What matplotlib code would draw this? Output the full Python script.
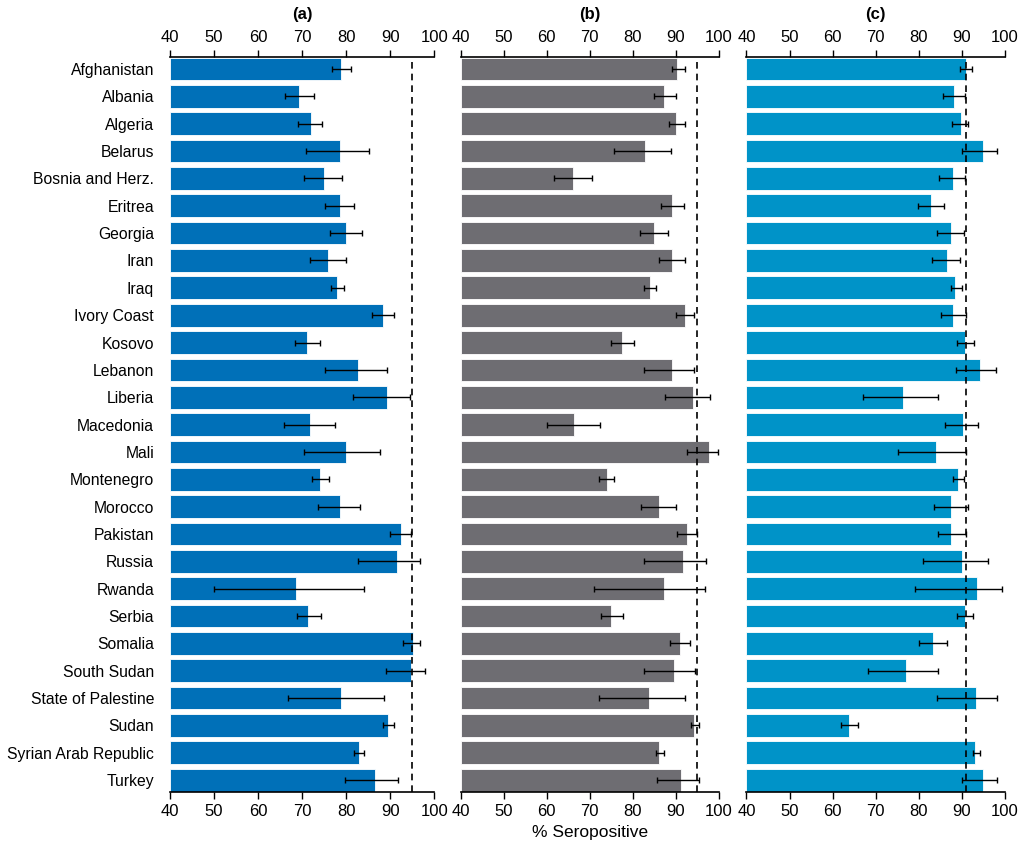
import matplotlib
matplotlib.use("Agg")
import matplotlib.pyplot as plt
import numpy as np

plt.rcParams['font.family'] = ['Liberation Sans', 'DejaVu Sans']

countries = ["Afghanistan", "Albania", "Algeria", "Belarus", "Bosnia and Herz.",
             "Eritrea", "Georgia", "Iran", "Iraq", "Ivory Coast", "Kosovo",
             "Lebanon", "Liberia", "Macedonia", "Mali", "Montenegro", "Morocco",
             "Pakistan", "Russia", "Rwanda", "Serbia", "Somalia", "South Sudan",
             "State of Palestine", "Sudan", "Syrian Arab Republic", "Turkey"]

# panel (a)
a_val = [78.8, 69.2, 72.0, 78.5, 74.9, 78.5, 79.9, 75.8, 77.9, 88.3, 71.1, 82.7, 89.2,
         71.7, 79.9, 74.0, 78.5, 92.4, 91.6, 68.7, 71.4, 95.1, 94.8, 78.8, 89.5, 83.0, 86.5]
a_lo = [76.9, 66.1, 69.1, 70.8, 70.5, 75.1, 76.3, 71.8, 76.5, 85.8, 68.5, 75.1, 81.5,
        65.8, 70.5, 72.3, 73.6, 89.9, 82.8, 50.1, 68.9, 92.9, 89.1, 66.7, 88.4, 81.9, 79.8]
a_hi = [81.1, 72.8, 74.6, 85.2, 79.0, 81.9, 83.5, 79.9, 79.6, 90.9, 74.0, 89.2, 94.4,
        77.5, 87.7, 76.1, 83.2, 94.8, 96.8, 84.0, 74.2, 96.8, 98.0, 88.5, 90.8, 84.1, 91.7]

# panel (b)
b_val = [90.3, 87.3, 90.0, 82.8, 66.0, 89.1, 84.9, 89.1, 84.0, 92.2, 77.5, 89.1, 94.1,
         66.3, 97.7, 73.9, 86.1, 92.5, 91.6, 87.3, 74.9, 91.0, 89.5, 83.7, 94.3, 86.1, 91.3]
b_lo = [89.0, 85.0, 88.4, 75.6, 61.7, 86.6, 81.6, 86.0, 82.6, 90.0, 75.0, 82.6, 87.5,
        60.1, 92.6, 72.2, 82.0, 90.2, 82.6, 71.0, 72.6, 88.6, 82.6, 72.2, 93.5, 85.3, 85.6]
b_hi = [92.2, 90.0, 92.2, 88.8, 70.5, 91.9, 88.2, 92.2, 85.5, 94.3, 80.2, 94.3, 98.0,
        72.3, 99.8, 75.7, 90.0, 95.0, 97.0, 96.7, 77.8, 93.4, 94.5, 92.2, 95.5, 87.2, 95.5]

# panel (c)
c_val = [91.0, 88.3, 89.8, 94.9, 87.9, 83.0, 87.6, 86.7, 88.5, 87.9, 90.7, 94.3, 76.4,
         90.3, 84.0, 89.1, 87.6, 87.6, 90.0, 93.7, 90.7, 83.4, 77.0, 93.4, 63.9, 93.1, 94.9]
c_lo = [89.6, 85.8, 87.8, 90.0, 84.7, 79.9, 84.4, 83.2, 87.5, 85.3, 89.0, 88.7, 67.0,
        86.2, 75.2, 88.0, 83.7, 84.5, 81.1, 79.2, 89.0, 80.2, 68.2, 84.4, 61.9, 92.7, 90.2]
c_hi = [92.4, 90.7, 91.4, 98.2, 90.9, 86.0, 90.6, 89.7, 90.0, 91.0, 92.8, 97.9, 84.5,
        93.9, 91.1, 90.6, 91.4, 91.0, 96.1, 99.4, 92.7, 86.7, 84.6, 98.2, 65.9, 94.2, 98.2]

panels = [("(a)", a_val, a_lo, a_hi, "#0070b8", 95.0),
          ("(b)", b_val, b_lo, b_hi, "#6e6d72", 95.0),
          ("(c)", c_val, c_lo, c_hi, "#0093c8", 91.0)]

lefts = [0.166, 0.450, 0.729]
widths = [0.258, 0.252, 0.252]

fig = plt.figure(figsize=(10.24, 8.5), dpi=100)
y = np.arange(len(countries))

for i, (title, val, lo, hi, col, thr) in enumerate(panels):
    ax = fig.add_axes([lefts[i], 0.068, widths[i], 0.865])
    val = np.array(val)
    err = [val - np.array(lo), np.array(hi) - val]
    ax.barh(y, val - 40, left=40, height=0.83, color=col,
            edgecolor="white", linewidth=0.6)
    ax.errorbar(val, y, xerr=err, fmt="none", ecolor="black",
                elinewidth=1.0, capsize=2.5, capthick=1.0)
    ax.axvline(thr, color="black", linestyle=(0, (4, 3)), linewidth=1.2)
    ax.set_xlim(40, 100)
    ax.set_ylim(len(countries) - 0.56, -0.44)
    ax.set_xticks(np.arange(40, 101, 10))
    ax.tick_params(axis="x", top=True, labeltop=True, bottom=True, labelbottom=True,
                   direction="out", length=5, width=1, labelsize=12)
    for s in ["left", "right"]:
        ax.spines[s].set_visible(False)
    ax.spines["top"].set_linewidth(1.2)
    ax.spines["bottom"].set_linewidth(1.2)
    if i == 0:
        ax.set_yticks(y)
        ax.set_yticklabels(countries, fontsize=11.3)
        ax.tick_params(axis="y", length=0, pad=11.5)
    else:
        ax.set_yticks([])
    ax.set_title(title, fontsize=12, fontweight="bold", pad=8)
    if i == 1:
        ax.set_xlabel("% Seropositive", fontsize=12.5, labelpad=4)

fig.savefig("out.png", dpi=100)
